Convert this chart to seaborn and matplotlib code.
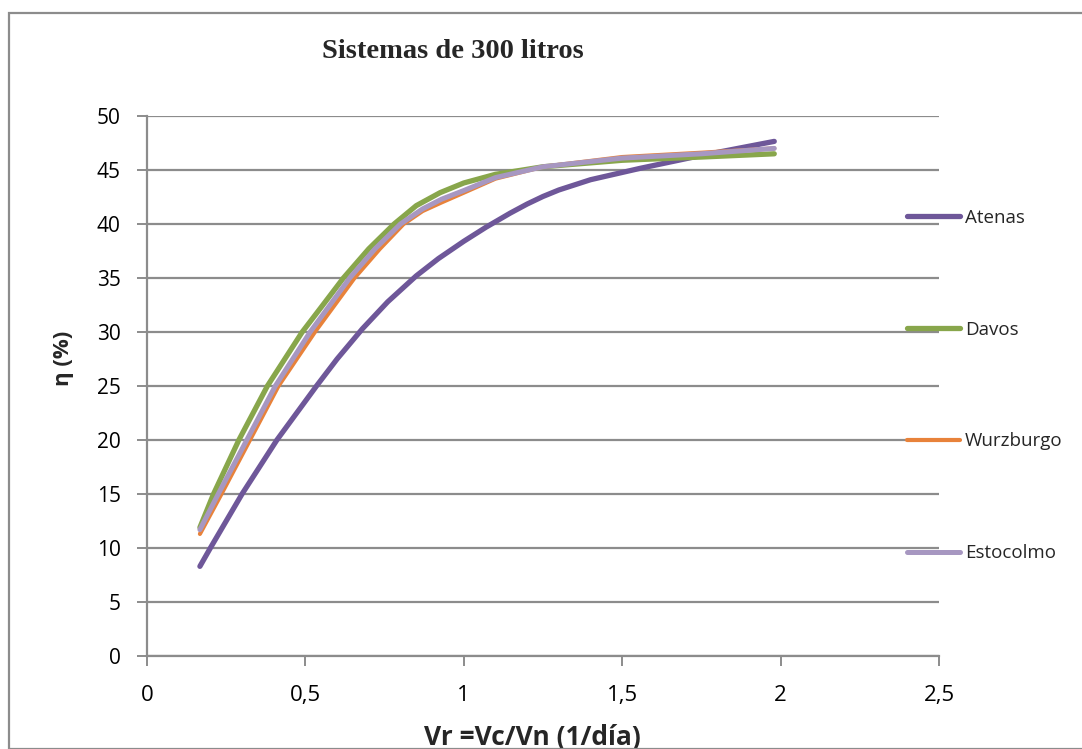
import numpy as np
import pandas as pd
import matplotlib
matplotlib.use("Agg")
import matplotlib.pyplot as plt
import seaborn as sns
from matplotlib.patches import Rectangle

# ---- data ----
atenas_x = [0.167, 0.20, 0.30, 0.41, 0.535, 0.60, 0.68, 0.76, 0.85, 0.92, 1.0, 1.07,
            1.146, 1.20, 1.25, 1.30, 1.40, 1.556, 1.75, 1.98]
atenas_y = [8.3, 10.0, 15.0, 20.0, 25.0, 27.5, 30.3, 32.8, 35.2, 36.8, 38.4, 39.7,
            41.0, 41.85, 42.55, 43.15, 44.1, 45.15, 46.35, 47.65]

davos_x = [0.167, 0.21, 0.29, 0.38, 0.49, 0.55, 0.62, 0.70, 0.78, 0.85, 0.925, 1.0,
           1.10, 1.25, 1.50, 1.75, 1.98]
davos_y = [11.9, 15.0, 20.0, 25.0, 30.0, 32.3, 35.0, 37.7, 40.0, 41.7, 42.9, 43.8,
           44.6, 45.3, 45.9, 46.2, 46.5]

wurz_x = [0.167, 0.235, 0.325, 0.415, 0.53, 0.655, 0.735, 0.81, 0.87, 0.93, 1.0,
          1.10, 1.25, 1.50, 1.75, 1.98]
wurz_y = [11.3, 15.0, 20.0, 25.0, 30.0, 35.0, 37.7, 40.0, 41.2, 42.0, 42.9,
          44.2, 45.3, 46.2, 46.6, 47.0]

esto_x = [0.167, 0.225, 0.315, 0.405, 0.515, 0.64, 0.72, 0.80, 0.87, 0.93, 1.0,
          1.10, 1.25, 1.50, 1.75, 1.98]
esto_y = [11.7, 15.0, 20.0, 25.0, 30.0, 35.0, 37.7, 40.0, 41.4, 42.3, 43.1,
          44.3, 45.3, 46.1, 46.5, 47.0]

series_names = ["Atenas", "Davos", "Wurzburgo", "Estocolmo"]
x_ticks = [0, 0.5, 1, 1.5, 2, 2.5]
x_tick_labels = ["0", "0,5", "1", "1,5", "2", "2,5"]
y_ticks = [0, 5, 10, 15, 20, 25, 30, 35, 40, 45, 50]

colors = {"Atenas": "#6E5799", "Davos": "#88A64B",
          "Wurzburgo": "#E8823A", "Estocolmo": "#A797C1"}
widths = {"Atenas": 3.8, "Davos": 3.8, "Wurzburgo": 3.0, "Estocolmo": 3.6}

frames = []
for name, xs, ys in [("Atenas", atenas_x, atenas_y), ("Davos", davos_x, davos_y),
                     ("Wurzburgo", wurz_x, wurz_y), ("Estocolmo", esto_x, esto_y)]:
    frames.append(pd.DataFrame({"x": xs, "y": ys, "serie": name}))
df = pd.concat(frames, ignore_index=True)

sns.set_theme(style="white")
plt.rcParams["font.family"] = ["Open Sans", "DejaVu Sans"]

fig = plt.figure(figsize=(10.82, 7.49), dpi=100)
fig.patch.set_facecolor("white")
ax = fig.add_axes([147 / 1082, 1 - 656 / 749, (939 - 147) / 1082, (656 - 116) / 749])

for name in series_names:
    sub = df[df["serie"] == name]
    sns.lineplot(data=sub, x="x", y="y", ax=ax, color=colors[name], lw=widths[name],
                 sort=False, estimator=None, label=name,
                 solid_capstyle="round", solid_joinstyle="round")

ax.set_xlim(0, 2.5)
ax.set_ylim(0, 50)
ax.set_xticks(x_ticks)
ax.set_xticklabels(x_tick_labels)
ax.set_yticks(y_ticks)
ax.yaxis.grid(True, color="#8C8C8C", lw=1.6)
ax.xaxis.grid(False)
ax.set_axisbelow(True)
for s in ["top", "right"]:
    ax.spines[s].set_visible(False)
for s in ["left", "bottom"]:
    ax.spines[s].set_color("#8C8C8C")
    ax.spines[s].set_linewidth(1.6)
ax.tick_params(axis="both", direction="out", length=7, width=1.4, color="#8C8C8C",
               left=True, bottom=True, labelcolor="black")
ax.tick_params(axis="y", labelsize=15, pad=12)
ax.tick_params(axis="x", labelsize=16, pad=14)

ax.set_xlabel("Vr =Vc/Vn (1/día)", fontsize=19, fontweight="bold")
ax.set_ylabel("η (%)", fontsize=16, fontweight="bold")
ax.xaxis.set_label_coords(0.486, -0.15)
ax.xaxis.label.set_va("center")
ax.yaxis.set_label_coords(-0.105, 0.552)
ax.yaxis.label.set_va("center")

leg = ax.legend(loc="upper left", bbox_to_anchor=(0.9596, 0.828), frameon=False,
                fontsize=13.5, handlelength=2.85, handletextpad=0.25, labelspacing=5.0,
                borderaxespad=0, borderpad=0)
for line in leg.get_lines():
    line.set_solid_capstyle("round")

fig.text(453 / 1082, 1 - 52 / 749, "Sistemas de 300 litros", ha="center", va="center",
         fontsize=20.5, fontweight="bold", family="Liberation Serif")

fig.patches.append(Rectangle((9 / 1082, 0), 1.2, 1 - 13 / 749, transform=fig.transFigure,
                             fill=False, edgecolor="#8C8C8C", lw=1.6))

fig.savefig("out.png", dpi=100, facecolor="white")
